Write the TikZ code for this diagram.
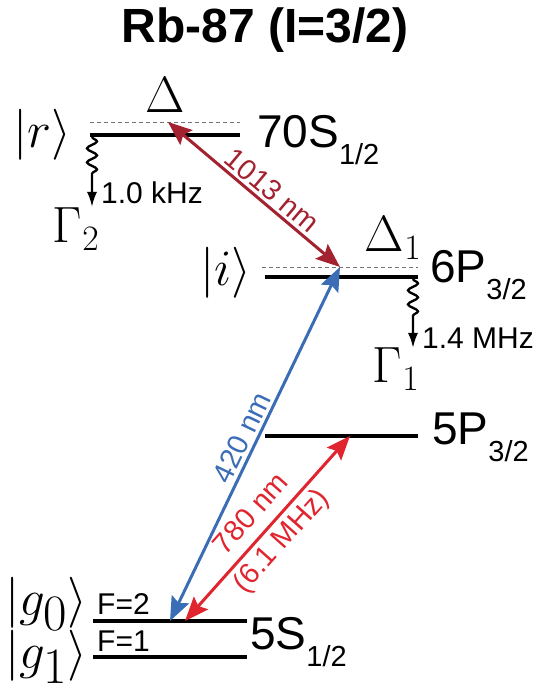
\RequirePackage{fix-cm}
\documentclass[tikz,border=0pt]{standalone}
\usepackage[no-math]{fontspec}
\setmainfont{Liberation Sans}
\usetikzlibrary{arrows.meta, positioning, decorations.pathmorphing}
\definecolor{rbdred}{HTML}{A3222F}
\definecolor{rbblue}{HTML}{3A6DB5}
\definecolor{rbred}{HTML}{E0252E}
\newcommand{\lsub}[1]{\raisebox{-17pt}{\fontsize{29}{30}\selectfont #1}}

\begin{document}
\begin{tikzpicture}[x=1pt, y=1pt,
    level/.style={line width=3.8pt, black},
    virtual/.style={line width=0.9pt, black!55, dash pattern=on 4pt off 3pt},
    laser/.style={{Stealth[length=24pt, width=19pt, inset=4pt]}-{Stealth[length=24pt, width=19pt, inset=4pt]},
                  line width=3pt, draw=#1},
    decay/.style={-{Latex[length=15pt, width=10pt]}, line width=2.3pt, decorate,
                  decoration={snake, amplitude=5pt, segment length=14pt, post length=32pt}},
    big/.style={font=\fontsize{46}{50}\selectfont, inner sep=0pt},
    bigmath/.style={font=\fontsize{51}{55}\selectfont, inner sep=0pt},
    small/.style={font=\fontsize{30}{32}\selectfont, inner sep=0pt},
    beam/.style={font=\fontsize{29}{32}\selectfont, sloped, inner sep=3pt, text=#1}
  ]
    \useasboundingbox (0,0) rectangle (540,692);
    \node[font=\fontsize{48}{52}\selectfont\bfseries] (title) at (265,662) {Rb-87 (I=3/2)};

    % levels
    \coordinate (r-w) at (90,557);   \coordinate (r-e) at (240,557);
    \coordinate (rv-w) at (90,570);  \coordinate (rv-e) at (240,570);
    \coordinate (i-w) at (265,415);  \coordinate (i-e) at (418,415);
    \coordinate (iv-w) at (262,425); \coordinate (iv-e) at (418,425);
    \coordinate (p-w) at (265,256);  \coordinate (p-e) at (418,256);
    \coordinate (g0-w) at (93,71);   \coordinate (g0-e) at (247,71);
    \coordinate (g1-w) at (93,35);   \coordinate (g1-e) at (247,35);
    \draw[level] (r-w) -- (r-e);
    \draw[virtual] (rv-w) -- (rv-e);
    \draw[level] (i-w) -- (i-e);
    \draw[virtual] (iv-w) -- (iv-e);
    \draw[level] (p-w) -- (p-e);
    \draw[level] (g0-w) -- (g0-e);
    \draw[level] (g1-w) -- (g1-e);

    % level labels
    \node[bigmath] (rket) at (42,557) {$|r\rangle$};
    \node[bigmath] (delta) at (165,597) {$\Delta$};
    \node[big, anchor=base west] (rname) at (257,544) {70S\lsub{1/2}};
    \node[bigmath] (iket) at (226,419) {$|i\rangle$};
    \node[bigmath] (delta1) at (393,454) {$\Delta_1$};
    \node[big, anchor=base west] (iname) at (430,409) {6P\lsub{3/2}};
    \node[big, anchor=base west] (pname) at (432,247) {5P\lsub{3/2}};
    \node[bigmath] (g0ket) at (46,88) {$|g_{\textstyle 0}\rangle$};
    \node[bigmath] (g1ket) at (46,35) {$|g_{\textstyle 1}\rangle$};
    \node[small, anchor=base west] (f2) at (97,77) {F=2};
    \node[small, anchor=base west] (f1) at (97,40) {F=1};
    \node[big, anchor=base west] (gname) at (250,42) {5S\lsub{1/2}};

    % decay
    \coordinate (r-d) at (92,555);  \coordinate (r-dd) at (92,485);
    \coordinate (i-d) at (413,413); \coordinate (i-dd) at (413,344);
    \draw[decay] (r-d) -- (r-dd);
    \draw[decay] (i-d) -- (i-dd);
    \node[small, anchor=west] (g2rate) at (101,499) {1.0 kHz};
    \node[bigmath] (g2) at (76,463) {$\Gamma_2$};
    \node[small, anchor=west] (g1rate) at (422,354) {1.4 MHz};
    \node[bigmath] (g1) at (396,323) {$\Gamma_1$};

    % lasers
    \coordinate (rx) at (168,570);
    \coordinate (ix) at (340,425);
    \coordinate (px) at (350,256);
    \coordinate (g0b) at (170,71);
    \coordinate (g0r) at (185,71);
    \draw[laser=rbdred] (rx) -- node[beam=rbdred, above, pos=0.55] (l1013) {1013 nm} (ix);
    \draw[laser=rbblue] (g0b) -- node[beam=rbblue, above] (l420) {420 nm} (ix);
    \draw[laser=rbred] (g0r) -- node[beam=rbred, align=center, font=\fontsize{29}{40}\selectfont] (l780)
                                {780 nm\\(6.1 MHz)} (px);
  \end{tikzpicture}
\end{document}
